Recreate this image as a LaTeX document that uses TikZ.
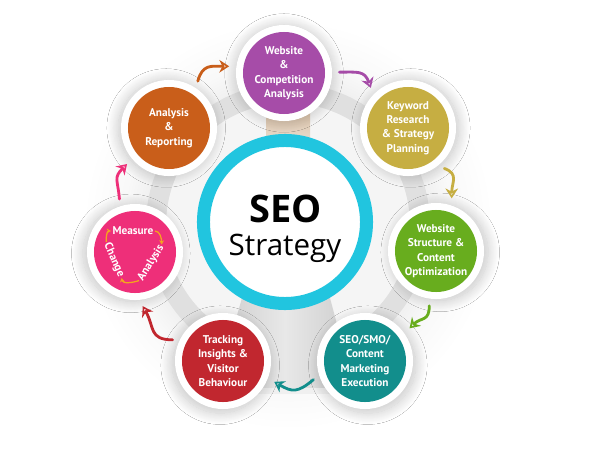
\documentclass[tikz,border=0pt]{standalone}
\usepackage{fontspec}
\setmainfont{PT Sans}
\newfontfamily\titlefont{Open Sans}
\usetikzlibrary{arrows.meta, shadows.blur}

\definecolor{seocyan}{HTML}{21C5DF}
\definecolor{seopurple}{HTML}{A64CA8}
\definecolor{seoorange}{HTML}{C95E1A}
\definecolor{seoolive}{HTML}{C6AE42}
\definecolor{seogreen}{HTML}{68AD1E}
\definecolor{seoteal}{HTML}{128E8C}
\definecolor{seored}{HTML}{C1272F}
\definecolor{seopink}{HTML}{EE2F79}
\definecolor{seoamber}{HTML}{F4A41E}
\definecolor{seotan}{HTML}{D8BEA2}

\pgfdeclareradialshading{wheelglow}{\pgfpointorigin}{color(0bp)=(gray!12); color(17bp)=(gray!12); color(20bp)=(gray!5); color(25bp)=(white); color(50bp)=(white)}

\tikzset{
    stage/.style={circle, fill=white, minimum size=2.4cm, inner sep=0pt,
        text=white, align=center, font=\bfseries\fontsize{8}{10.3}\selectfont,
        path picture={\fill[#1] (path picture bounding box.center) circle (1.025cm);}},
    lean/.style 2 args={blur shadow={shadow xshift=#1, shadow yshift=#2,
        shadow blur radius=8pt, shadow blur steps=24, shadow opacity=22}},
    flow/.style={draw=#1, line width=2pt, line cap=round, looseness=1.4,
        shorten <=5pt, shorten >=5pt,
        -{Stealth[open, length=7pt, width=9pt, line width=1.4pt]}},
    turn/.style={draw=seoamber, line width=0.9pt, shorten <=1pt, shorten >=1pt,
        -{Stealth[open, length=3pt, width=3.5pt, line width=0.7pt]}},
    word/.style={text=white, inner sep=0pt, font=\bfseries\fontsize{8}{10.3}\selectfont}
}

\begin{document}
\begin{tikzpicture}[x=0.025cm, y=0.025cm]
    \useasboundingbox (0,0) rectangle (600,450);
    \fill[white] (0,0) rectangle (600,450);
    % wheel behind the stages
    \shade[shading=wheelglow] (288,225) circle (205);
    \fill[gray!8] (288,225) circle (122);
    \draw[gray!24, line width=14.2pt] (288,225) circle (132);
    \shade[left color=gray!40, right color=gray!40, middle color=gray!18] (242,152) -- (330,152) -- (354,62) -- (216,62) -- cycle;
    \fill[gray!12] (216,62) rectangle (354,56);
    \shade[top color=seotan, bottom color=seotan!50!white] (266,345) rectangle (310,305);

    \node (seo) [circle, draw=seocyan, line width=9.25pt, fill=white, minimum size=4.075cm] at (285,228) {};
    \node (seotitle) [anchor=base, font=\titlefont\bfseries\fontsize{27}{30}\selectfont] at (286,228) {SEO};
    \node (seosub) [anchor=base, font=\titlefont\fontsize{21}{24}\selectfont] at (285,195) {Strategy};

    \node (web) [stage=seopurple, lean={0pt}{0pt}] at (284,377) {Website\\\&\\Competition\\Analysis};
    \node (keyword) [stage=seoolive, lean={2pt}{0pt}] at (408,322) {Keyword\\Research\\\& Strategy\\Planning};
    \node (struct) [stage=seogreen, lean={3pt}{-1pt}] at (436,199) {Website\\Structure \&\\Content\\Optimization};
    \node (exec) [stage=seoteal, lean={2pt}{-3pt}] at (365,89) {SEO/SMO/\\Content\\Marketing\\Execution};
    \node (track) [stage=seored, lean={-2pt}{-3pt}] at (223,89) {Tracking\\Insights \&\\Visitor\\Behaviour};
    \node (measure) [stage=seopink, lean={-3pt}{-1pt}] at (135,198) {};
    \node (report) [stage=seoorange, lean={-2pt}{0pt}] at (169,322) {Analysis\\\&\\Reporting};

    \node (mtop) [word] at (133,219) {Measure};
    \node (mright) [word, rotate=58] at (151,187) {Analysis};
    \node (mleft) [word, rotate=-66] at (114,190) {Change};
    \draw[turn] (mtop.east) to[out=0, in=90] (mright.east);
    \draw[turn] (mright.west) to[out=200, in=-80] (mleft.east);
    \draw[turn] (mleft.west) to[out=100, in=180] (mtop.west);

    \foreach \src/\sa/\dst/\da/\o/\i/\col in {report/56/web/172/75/180/seoorange,
        web/1/keyword/136/0/110/seopurple, keyword/-52/struct/71/-20/90/seoolive,
        struct/-98/exec/35/-90/45/seogreen, exec/197/track/-21/220/-30/seoteal,
        track/154/measure/-85/180/-60/seored, measure/108/report/220/95/225/seopink}
        \draw[flow=\col] (\src.\sa) to[out=\o, in=\i] (\dst.\da);
\end{tikzpicture}
\end{document}
